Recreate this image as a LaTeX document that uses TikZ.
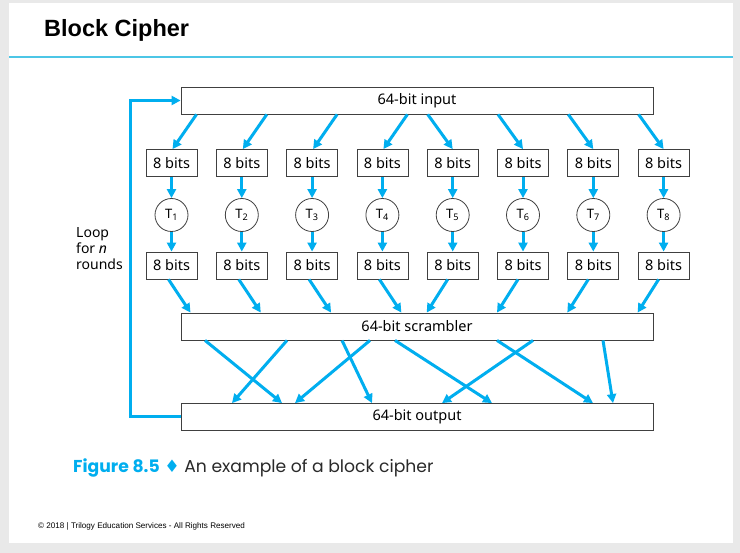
\documentclass[tikz,border=0pt]{standalone}
\usepackage{fontspec}
\newfontfamily\figfont{Noto Sans}
\newfontfamily\headfont{Liberation Sans}
\newfontfamily\captfont{Poppins}
\newfontfamily\symfont{DejaVu Sans}
\usepackage{xcolor}
\usepackage{tikz}
\usetikzlibrary{calc}
\usetikzlibrary{arrows.meta}
\definecolor{cipherblue}{HTML}{00AEEF}
\definecolor{ruleblue}{HTML}{4CC6E6}
\definecolor{slidegray}{HTML}{E9E9E9}
\definecolor{captgray}{HTML}{2A2A2A}
\tikzset{ bit_box/.style = {rectangle, draw=black!75, line width=0.8pt, fill=white, minimum width=51pt, minimum height=27pt, inner sep=0pt, font=\figfont\fontsize{14.5}{16}\selectfont} }
\tikzset{ wide_box/.style = {bit_box, minimum width=472pt} }
\tikzset{ t_box/.style = {circle, draw=black!75, line width=0.8pt, minimum size=33pt, inner sep=0pt, font=\figfont\fontsize{13}{15}\selectfont} }
\tikzset{ flow/.style = {-{Triangle[length=9pt,width=9pt]}, cipherblue, line width=3pt} }

\begin{document}
\begin{tikzpicture}[x=1pt,y=-1pt]
            \fill[slidegray] (0,0) rectangle (740,553);
            \useasboundingbox (0,0) rectangle (740,553);
            \fill[white] (9,3) rectangle (733,543);
            \draw[ruleblue, line width=2pt] (9,57) -- (733,57);
            \node[anchor=base west, inner sep=0pt, font=\headfont\bfseries\fontsize{23.5}{26}\selectfont] (title) at (44,37) {Block Cipher};
                    \node [style=wide_box] (in) at (417,100.5) {64-bit input};
                    \node [style=wide_box] (sc) at (417,326.5) {64-bit scrambler};
                    \node [style=wide_box] (out) at (417,417) {64-bit output};
                    \foreach \k in {1,...,8} {
                      \node [style=bit_box] (t\k) at ({171.5+70.3*(\k-1)},163) {8 bits};
                      \node [style=t_box] (c\k) at ({171.5+70.3*(\k-1)},215) {T\textsubscript{\k}};
                      \node [style=bit_box] (b\k) at ({171.5+70.3*(\k-1)},265.5) {8 bits};
                      \draw[flow] (t\k) to (c\k);
                      \draw[flow] (c\k) to (b\k);
                    }
                    \foreach \k in {1,...,4} {
                      \draw[flow] ($(in.south -| t\k.north)+(25,0)$) to ($(t\k.north)+(1,0)$);
                      \draw[flow] ($(b\k.south)+(-3,0)$) to ($(b\k.south |- sc.north)+(19,0)$);
                    }
                    \foreach \k in {5,...,8} {
                      \draw[flow] ($(in.south -| t\k.north)+(-25,0)$) to (t\k.north);
                      \draw[flow] ($(b\k.south)+(-5,0)$) to ($(b\k.south |- sc.north)+(-26,0)$);
                    }
                    \foreach \a/\b in {-212/-135,-130/-185,-75/-45,-47/-122,-22/75,80/176,116/25,186/196}
                      \draw[flow] ($(sc.south)+(\a,0)$) to ($(out.north)+(\b,0)$);
                    \draw[flow] (out.west) -- ++(-50,0) |- (in.west);
                    \node [anchor=west, align=left, inner sep=0pt, font=\figfont\fontsize{14}{16}\selectfont] (loop) at (76,249) {Loop\\for \textit{n}\\rounds};
            \node[anchor=base west, inner sep=0pt, text=captgray, font=\captfont\fontsize{17.2}{20}\selectfont] (cap) at (73,473) {\textcolor{cipherblue}{\bfseries Figure 8.5} {\symfont\textcolor{cipherblue}{♦}} An example of a block cipher};
            \node[anchor=west, inner sep=0pt, font=\headfont\fontsize{8.1}{9}\selectfont] (foot) at (38,526) {© 2018 | Trilogy Education Services - All Rights Reserved};
            \end{tikzpicture}
\end{document}
